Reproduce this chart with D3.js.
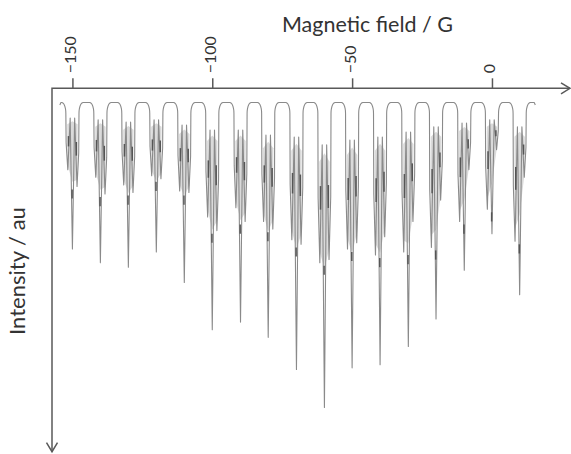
<!DOCTYPE html>
<html><head><meta charset="utf-8">
<script src="https://cdn.jsdelivr.net/npm/d3@7"></script>
<style>body{margin:0;background:#fff}svg{display:block}</style>
</head><body>
<svg id="chart" width="571" height="454"></svg>
<script>
// ---- data ----
const fieldTicks = [-150, -100, -50, 0];
const groupField = [-150, -140, -130, -120, -110, -100, -89.9, -80, -69.9, -59.9, -50, -40, -29.9, -20, -9.9, 0, 9.9];
const mainDepth  = [48, 52.5, 54, 49, 59, 74.5, 72, 77, 87.5, 100, 87, 86, 80, 71, 55, 43, 63];
const leftDepth  = [22, 24.5, 27, 24, 29, 37.5, 34.5, 39, 45, 52.5, 48, 50, 49, 47.5, 39, 35, 45.5];
const rightDepth = [27.5, 30, 29.5, 25, 29.5, 42, 39, 41.5, 46.5, 51.5, 46, 44, 39, 32, 22, 15.5, 24.5];
const topDepth   = [5.1, 5.7, 6.4, 5.7, 7.4, 9, 9, 10.7, 11.3, 13.9, 12.3, 11.3, 9.7, 8, 6.7, 5.7, 8];
const sideOffset = 1.65;            // G, position of the side lines
const fieldRange = [-154.5, 15.5];  // recorded sweep

// ---- layout ----
const svg = d3.select("#chart");
const x = d3.scaleLinear().domain([-157.3, 27.9]).range([52, 570]);
const y = d3.scaleLinear().domain([0, 100]).range([102.5, 407.5]);
const axisY = 88.3, axisX = 52, yEnd = 451.7;
const axisColor = "#595959", textColor = "#333";
const font = "Lato, 'Open Sans', sans-serif";

// rounded shoulder of each baseline hump (quarter ellipse)
const wallPos = 2.35, cornerW = 1.5, cornerH = 3.5;
function shoulder(c, side) {          // side -1: left of group, +1: right
  const pts = [];
  const steps = d3.range(0, 1.0001, 1 / 7).map(t => t * Math.PI / 2);
  steps.forEach(th => {
    const dx = wallPos + cornerW - cornerW * Math.cos(th);
    pts.push([c + side * dx, cornerH - cornerH * Math.sin(th)]);
  });
  return side < 0 ? pts.reverse() : pts;   // ordered by field
}

// ---- spectrum vertices from the read line list ----
const spectrum = [[fieldRange[0], 0.8], [fieldRange[0] + 0.4, 0]];
groupField.forEach((c, i) => {
  const L = leftDepth[i], M = mainDepth[i], R = rightDepth[i], T = topDepth[i];
  spectrum.push(...shoulder(c, -1));
  spectrum.push(
    [c - 2.25, 0.6 * L], [c - sideOffset, L],
    [c - 0.8, T], [c, M], [c + 0.8, T],
    [c + sideOffset, R], [c + 2.25, 0.6 * R]);
  spectrum.push(...shoulder(c, 1));
});
spectrum.push([fieldRange[1] - 0.4, 0], [fieldRange[1], 0.8]);

// light grey bands of unresolved lines inside each group
const band = d3.area().x(d => x(d[0])).y0(d => y(d[1])).y1(d => y(d[2]));
svg.append("g").selectAll("path").data(groupField).join("path")
  .attr("d", (c, i) => band([
    [c - 1.85, topDepth[i] * 1.4, leftDepth[i] * 0.92],
    [c, topDepth[i] * 1.2, (leftDepth[i] + rightDepth[i]) / 2 * 1.05],
    [c + 1.85, topDepth[i] * 1.4, rightDepth[i] * 0.92]]))
  .attr("fill", "#dadada");

svg.append("path")
  .datum(spectrum)
  .attr("d", d3.line().x(d => x(d[0])).y(d => y(d[1])))
  .attr("fill", "none")
  .attr("stroke", "#8a8a8a")
  .attr("stroke-width", 1.1)
  .attr("stroke-linejoin", "round");

// darker overlap marks on the lines
const marks = [];
groupField.forEach((c, i) => {
  const L = leftDepth[i], R = rightDepth[i], T = topDepth[i];
  marks.push([c - sideOffset * 0.85, T + (L - T) * 0.35, T + (L - T) * 0.55]);
  marks.push([c + sideOffset * 0.85, T + (R - T) * 0.35, T + (R - T) * 0.55]);
  marks.push([c - 0.12, Math.max(L, R) + 1, Math.max(L, R) + 4]);
});
svg.append("g").selectAll("line").data(marks).join("line")
  .attr("x1", d => x(d[0])).attr("x2", d => x(d[0]))
  .attr("y1", d => y(d[1])).attr("y2", d => y(d[2]))
  .attr("stroke", "#555").attr("stroke-width", 1.5);

// ---- axes ----
const xAxis = svg.append("g")
  .attr("transform", `translate(0,${axisY})`)
  .call(d3.axisTop(x).tickValues(fieldTicks).tickSize(10).tickFormat(d3.format("d")));
xAxis.select(".domain").remove();
xAxis.selectAll(".tick line").attr("stroke", axisColor).attr("stroke-width", 1.5);
xAxis.selectAll(".tick text")
  .attr("transform", "rotate(-90)")
  .attr("x", 15).attr("y", 3).attr("dy", null)
  .style("text-anchor", "start")
  .style("font-family", font).style("font-size", "16px")
  .attr("fill", textColor);

// axis lines with open arrows
const ax = svg.append("g").attr("stroke", axisColor).attr("stroke-width", 1.5).attr("fill", "none");
ax.append("path").attr("d", `M${axisX},${yEnd}V${axisY}H${x.range()[1]}`);
ax.append("path").attr("d", `M${x.range()[1] - 9},${axisY - 5.5}L${x.range()[1]},${axisY}L${x.range()[1] - 9},${axisY + 5.5}`);
ax.append("path").attr("d", `M${axisX - 5.5},${yEnd - 9}L${axisX},${yEnd}L${axisX + 5.5},${yEnd - 9}`);

// titles
svg.append("text")
  .attr("x", 367.5).attr("y", 32)
  .attr("text-anchor", "middle")
  .style("font-family", font).style("font-size", "21.5px")
  .attr("fill", textColor)
  .text("Magnetic field / G");
svg.append("text")
  .attr("transform", "translate(25,271) rotate(-90)")
  .attr("text-anchor", "middle")
  .style("font-family", font).style("font-size", "22px")
  .attr("fill", textColor)
  .text("Intensity / au");
</script>
</body></html>
